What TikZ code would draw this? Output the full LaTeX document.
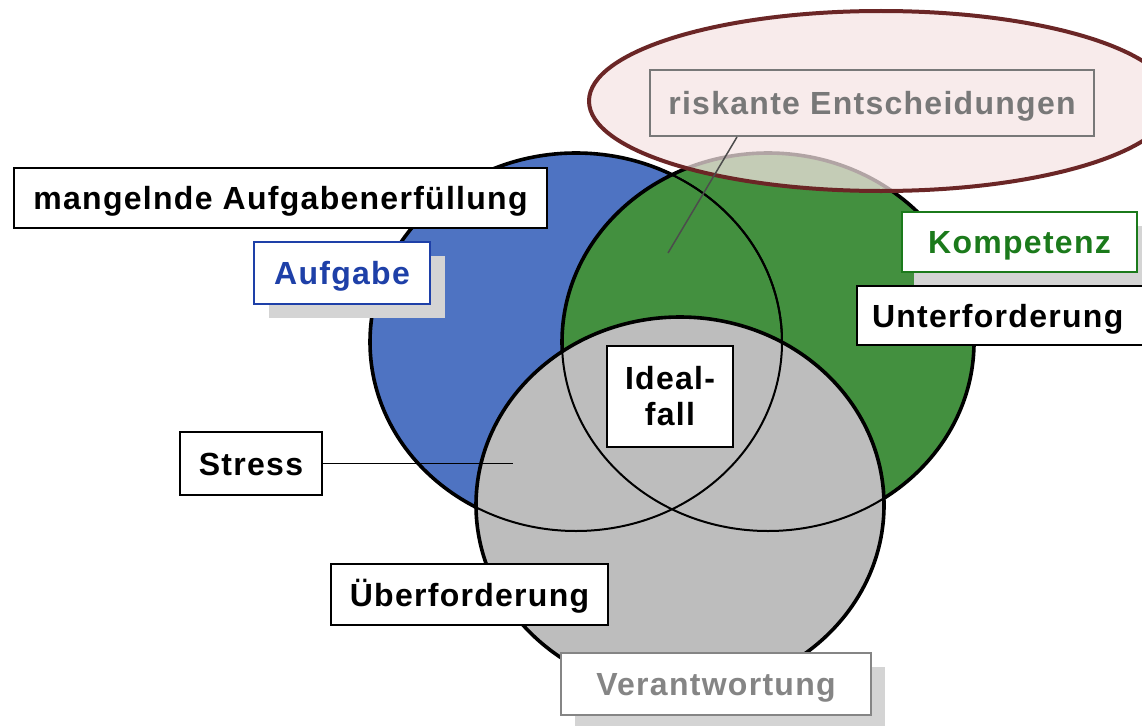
\documentclass[tikz,border=0pt]{standalone}
\usepackage{fontspec}
\setmainfont{Liberation Sans}[LetterSpace=4]
\usetikzlibrary{shadows}
\definecolor{bluefill}{HTML}{4E73C2}
\definecolor{greenfill}{HTML}{43903F}
\definecolor{greyfill}{HTML}{BDBDBD}
\definecolor{shadowgrey}{HTML}{D4D4D4}
\definecolor{ellstroke}{HTML}{6B2626}
\definecolor{ellfill}{HTML}{F6E4E4}
\definecolor{bluetext}{HTML}{1E40A8}
\definecolor{greentext}{HTML}{1B7A1B}
\definecolor{greytext}{HTML}{858585}
\begin{document}
\begin{tikzpicture}[x=1pt,y=-1pt,
  lab/.style={draw=black, line width=2.4pt, fill=white, inner sep=0pt,
    font=\fontsize{32}{36}\selectfont\bfseries, text height=23pt, text depth=0pt},
  shad/.style={drop shadow={shadow xshift=#1, shadow yshift=-14pt, fill=shadowgrey, opacity=1}},
  ring/.style={line width=3.6pt, draw=black},
  innerring/.style={line width=2pt, draw=black}
]
\useasboundingbox (0,0) rectangle (1142,725);
\fill[white] (0,0) rectangle (1142,725);

% circles
\path[ring, fill=bluefill] (576,342) ellipse [x radius=206pt, y radius=189pt];
\path[ring, fill=greenfill] (768,342) ellipse [x radius=206pt, y radius=189pt];
\path[innerring] (576,342) ellipse [x radius=206pt, y radius=189pt];
\path[ring, fill=greyfill] (680,505) ellipse [x radius=204pt, y radius=188pt];
\path[innerring] (576,342) ellipse [x radius=206pt, y radius=189pt];
\path[innerring] (768,342) ellipse [x radius=206pt, y radius=189pt];

% labels
\node[lab, minimum width=533pt, minimum height=60pt] (mangel) at (280.5,198) {mangelnde Aufgabenerfüllung};
\node[lab, draw=bluetext, text=bluetext, minimum width=176pt, minimum height=62pt, shad=15pt] (aufg) at (342,273) {Aufgabe};
\node[lab, draw=greentext, text=greentext, minimum width=235pt, minimum height=60pt, shad=12pt] (komp) at (1019.5,242) {Kompetenz};
\node[lab, minimum width=290pt, minimum height=59pt, text width=260pt, align=left] (unter) at (1002,315.5) {Unterforderung};
\node[lab, minimum width=142pt, minimum height=63pt] (stress) at (251,463.5) {Stress};
\node[lab, minimum width=126pt, minimum height=101pt, align=center, text height=, text depth=] (ideal) at (670,396.5) {Ideal-\\fall};
\node[lab, minimum width=277pt, minimum height=61pt] (ueber) at (469.5,594.5) {Überforderung};
\node[lab, draw=greytext, text=greytext, minimum width=310pt, minimum height=62pt, shad=14pt] (verant) at (716,684) {Verantwortung};

% stress connector
\coordinate (stressend) at (513,463.5);
\draw[line width=1.6pt] (stress.east) -- (stressend);

% highlight ellipse
\fill[ellfill, fill opacity=0.72] (881,101) ellipse [x radius=292pt, y radius=90pt];
\draw[ellstroke, line width=4pt] (881,101) ellipse [x radius=292pt, y radius=90pt];

\node[lab, fill=none, draw=greytext!90!black, text=greytext!90!black, line width=2pt, minimum width=444pt, minimum height=66pt] (risk) at (872,103) {riskante Entscheidungen};
\coordinate (riskend) at (668,253);
\draw[line width=1.5pt, black!70] ([xshift=88pt]risk.south west) -- (riskend);
\end{tikzpicture}
\end{document}
